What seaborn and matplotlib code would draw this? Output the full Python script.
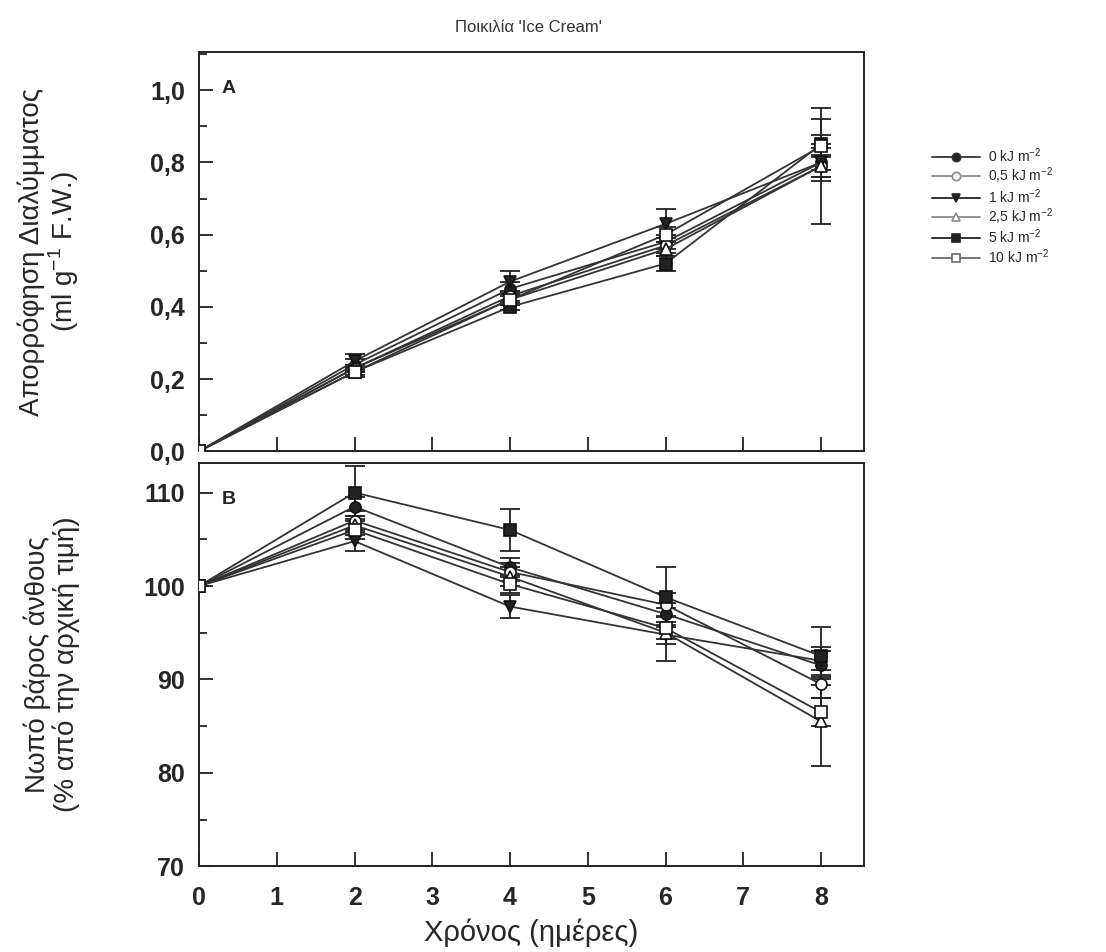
import numpy as np
import pandas as pd
import matplotlib
matplotlib.use("Agg")
import matplotlib.pyplot as plt
from matplotlib.ticker import MultipleLocator, FuncFormatter
import seaborn as sns

# ---------------- data ----------------
days = [0, 2, 4, 6, 8]
doses = ["0 kJ m$^{-2}$", "0,5 kJ m$^{-2}$", "1 kJ m$^{-2}$",
         "2,5 kJ m$^{-2}$", "5 kJ m$^{-2}$", "10 kJ m$^{-2}$"]

# Panel A: solution uptake (ml g-1 F.W.)
upt_0 = [0.0, 0.24, 0.45, 0.58, 0.80]
upt_05 = [0.0, 0.23, 0.43, 0.57, 0.79]
upt_1 = [0.0, 0.25, 0.47, 0.63, 0.80]
upt_25 = [0.0, 0.23, 0.42, 0.56, 0.79]
upt_5 = [0.0, 0.22, 0.40, 0.52, 0.85]
upt_10 = [0.0, 0.22, 0.42, 0.60, 0.845]

upt_err_0 = [0.0, 0.015, 0.02, 0.02, 0.04]
upt_err_05 = [0.0, 0.01, 0.015, 0.02, 0.16]
upt_err_1 = [0.0, 0.02, 0.03, 0.04, 0.05]
upt_err_25 = [0.0, 0.01, 0.015, 0.02, 0.03]
upt_err_5 = [0.0, 0.015, 0.01, 0.02, 0.07]
upt_err_10 = [0.0, 0.01, 0.015, 0.02, 0.03]

# Panel B: fresh weight (% of initial)
fw_0 = [100, 108.5, 102.0, 97.0, 91.5]
fw_05 = [100, 107.0, 101.5, 98.0, 89.5]
fw_1 = [100, 104.8, 97.8, 94.8, 92.0]
fw_25 = [100, 106.5, 101.0, 95.0, 85.5]
fw_5 = [100, 110.0, 106.0, 98.8, 92.5]
fw_10 = [100, 106.0, 100.2, 95.5, 86.5]

fw_err_0 = [0, 1.0, 1.0, 1.2, 1.5]
fw_err_05 = [0, 1.0, 1.0, 1.2, 1.5]
fw_err_1 = [0, 1.0, 1.2, 2.8, 1.5]
fw_err_25 = [0, 1.0, 1.0, 1.2, 4.8]
fw_err_5 = [0, 2.8, 2.2, 3.2, 3.1]
fw_err_10 = [0, 1.0, 1.0, 1.2, 1.5]

uptake = [upt_0, upt_05, upt_1, upt_25, upt_5, upt_10]
uptake_err = [upt_err_0, upt_err_05, upt_err_1, upt_err_25, upt_err_5, upt_err_10]
fweight = [fw_0, fw_05, fw_1, fw_25, fw_5, fw_10]
fweight_err = [fw_err_0, fw_err_05, fw_err_1, fw_err_25, fw_err_5, fw_err_10]

# ---------------- style ----------------
sns.set_theme(style="white")
plt.rcParams['font.family'] = ['Liberation Sans', 'DejaVu Sans']
plt.rcParams['mathtext.fontset'] = 'custom'
plt.rcParams['mathtext.rm'] = 'Liberation Sans'

markers = ["o", "o", "v", "^", "s", "s"]
faces = ["#222222", "white", "#222222", "white", "#222222", "white"]
leg_cols = ["#333333", "#8a8a8a", "#222222", "#8a8a8a", "#222222", "#6a6a6a"]

fig = plt.figure(figsize=(11.06, 9.52), dpi=100)
axA = fig.add_axes([0.180, 0.526, 0.601, 0.419])
axB = fig.add_axes([0.180, 0.090, 0.601, 0.424])


def draw(ax, values, errs):
    rows = []
    for d, v in zip(doses, values):
        for x, y in zip(days, v):
            rows.append({"day": x, "val": y, "dose": d})
    df = pd.DataFrame(rows)
    for i, d in enumerate(doses):
        sub = df[df["dose"] == d]
        ax.errorbar(sub["day"], sub["val"], yerr=errs[i], fmt="none",
                    ecolor="#222222", elinewidth=1.3, capsize=7, capthick=1.3,
                    zorder=2)
        sns.lineplot(data=sub, x="day", y="val", ax=ax, color="#333333",
                     lw=1.3, marker=markers[i], markersize=8,
                     markerfacecolor=faces[i], markeredgecolor="#111111",
                     markeredgewidth=1.2, label=d, legend=False, zorder=3)


draw(axA, uptake, uptake_err)
draw(axB, fweight, fweight_err)

comma = FuncFormatter(lambda v, p: f"{v:.1f}".replace(".", ","))

for ax in (axA, axB):
    ax.set_xlim(0, 8.55)
    ax.xaxis.set_major_locator(MultipleLocator(1))
    for s in ax.spines.values():
        s.set_color("#222222")
        s.set_linewidth(1.4)
    ax.tick_params(direction="in", which="both", top=False, right=False,
                   left=True, bottom=True, color="#222222", width=1.3)
    ax.tick_params(which="major", length=10, pad=10)
    ax.tick_params(which="minor", length=6)
    ax.set_xlabel("")
    ax.set_ylabel("")

axA.set_ylim(0, 1.105)
axA.yaxis.set_major_locator(MultipleLocator(0.2))
axA.yaxis.set_minor_locator(MultipleLocator(0.1))
axA.yaxis.set_major_formatter(comma)
axA.tick_params(axis="x", labelbottom=False)
axA.tick_params(axis="y", labelsize=18)
for t in axA.get_yticklabels():
    t.set_fontweight("bold")

axB.set_ylim(70, 113.2)
axB.yaxis.set_major_locator(MultipleLocator(10))
axB.yaxis.set_minor_locator(MultipleLocator(5))
axB.tick_params(axis="both", labelsize=18)
axB.tick_params(axis="x", pad=14)
for t in axB.get_yticklabels() + axB.get_xticklabels():
    t.set_fontweight("bold")

axA.text(0.044, 0.91, "A", transform=axA.transAxes, fontsize=14,
         fontweight="bold", va="center", ha="center")
axB.text(0.044, 0.908, "B", transform=axB.transAxes, fontsize=14,
         fontweight="bold", va="center", ha="center")

axA.set_ylabel("Απορρόφηση Διαλύμματος\n(ml g$^{-1}$ F.W.)", fontsize=20,
               labelpad=50, linespacing=1.05)
axB.set_ylabel("Νωπό βάρος άνθους\n(% από την αρχική τιμή)", fontsize=20,
               labelpad=46, linespacing=1.05)
axB.set_xlabel("Χρόνος (ημέρες)", fontsize=21, labelpad=6)

fig.text(0.478, 0.971, "Ποικιλία 'Ice Cream'", ha="center", va="center",
         fontsize=12, color="#333333")

# legend
handles, labels = axA.get_legend_handles_labels()
leg = fig.legend(handles, labels, loc="upper left",
                 bbox_to_anchor=(0.838, 0.852), frameon=False, fontsize=10,
                 handlelength=3.4, labelspacing=0.05, handletextpad=0.6,
                 borderaxespad=0)
for h, c in zip(leg.legend_handles, leg_cols):
    h.set_markersize(6)
    h.set_color(c)
    h.set_markeredgecolor(c)

fig.savefig("out.png", dpi=100, facecolor="white")
